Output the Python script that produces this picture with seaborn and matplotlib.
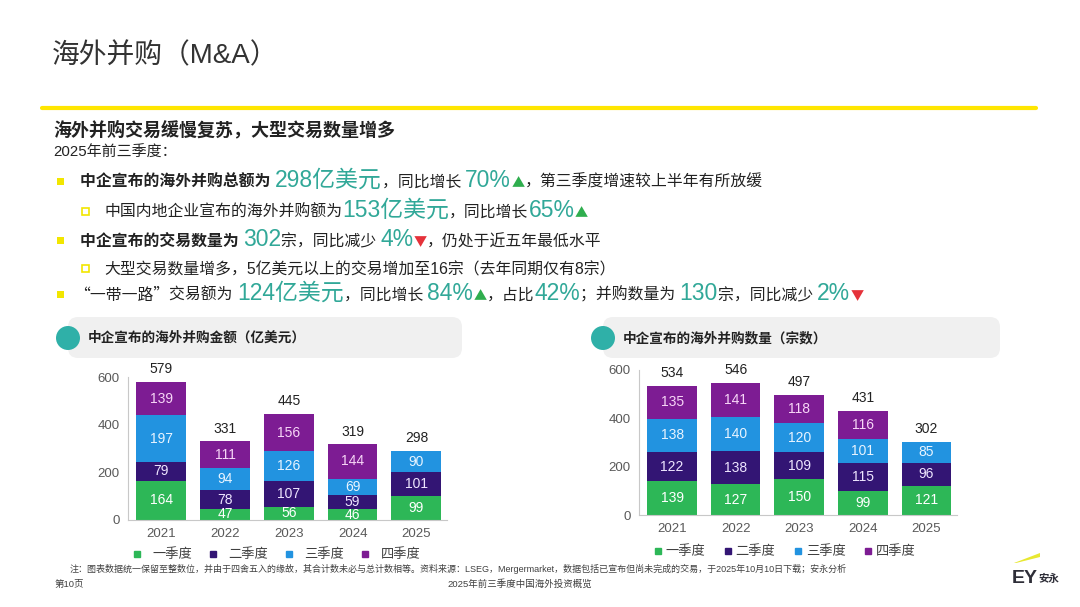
import numpy as np
import pandas as pd
import seaborn as sns
import matplotlib
matplotlib.use("Agg")
import matplotlib.pyplot as plt
from matplotlib.patches import FancyBboxPatch, Circle, Rectangle, Polygon
from matplotlib.lines import Line2D
from matplotlib.transforms import IdentityTransform

# ---- data ----
years = ["2021", "2022", "2023", "2024", "2025"]
quarters = ["一季度", "二季度", "三季度", "四季度"]

amt_q1 = [164, 47, 56, 46, 99]
amt_q2 = [79, 78, 107, 59, 101]
amt_q3 = [197, 94, 126, 69, 90]
amt_q4 = [139, 111, 156, 144, 0]
amt_total = [579, 331, 445, 319, 298]

cnt_q1 = [139, 127, 150, 99, 121]
cnt_q2 = [122, 138, 109, 115, 96]
cnt_q3 = [138, 140, 120, 101, 85]
cnt_q4 = [135, 141, 118, 116, 0]
cnt_total = [534, 546, 497, 431, 302]

y_ticks = [0, 200, 400, 600]

# ---- style ----
sns.set_theme(style="white")
FONTS = ["Liberation Sans", "Noto Sans CJK SC", "DejaVu Sans"]
CJK = ["Noto Sans CJK SC", "DejaVu Sans"]
plt.rcParams["font.family"] = FONTS

q_colors = ["#2db757", "#331574", "#2293e0", "#7d1c93"]
lbl_colors = ["#ffffff", "#eee6ff", "#e8f4ff", "#f7d6f7"]
TEAL = "#31a898"
DARK = "#222222"
GREY = "#595959"
UP = "#2fae4e"
DOWN = "#e5323a"

W, H = 1080, 607
fig = plt.figure(figsize=(W / 100, H / 100), dpi=100)
renderer = fig.canvas.get_renderer()


def fx(x):
    return x / W


def fy(y):
    return 1 - y / H


def rich(x, y, parts):
    """依次排列不同字号/颜色的文字，y 为基线（像素，从上往下）"""
    cur = x
    for part in parts:
        txt, size, color, weight = part[:4]
        fam = part[4] if len(part) > 4 else FONTS
        t = fig.text(fx(cur), fy(y), txt, fontsize=size, color=color,
                     fontweight=weight, va="baseline", ha="left", family=fam)
        bb = t.get_window_extent(renderer)
        cur += bb.width
    return cur


def bullet(x, y, hollow=False):
    s = 7
    if hollow:
        p = Rectangle((x - s / 2, H - y - s / 2), s, s, transform=IdentityTransform(),
                      facecolor="white", edgecolor="#f2e600", lw=1.2)
    else:
        p = Rectangle((x - s / 2, H - y - s / 2), s, s, transform=IdentityTransform(),
                      facecolor="#f2e600", edgecolor="none")
    fig.patches.append(p)


S, B = 11.4, 16.5  # 正文 / 大号数字字号
TRI = 9.5

# 标题 + 黄线
fig.text(fx(52), fy(56), "海外并购（M&A）", fontsize=20, color="#333333", va="center")
fig.add_artist(Line2D([fx(42), fx(1036)], [fy(108), fy(108)], color="#ffe600", lw=3))

fig.text(fx(53), fy(130), "海外并购交易缓慢复苏，大型交易数量增多", fontsize=13,
         fontweight="bold", color=DARK, va="center")
fig.text(fx(53), fy(153), "2025年前三季度：", fontsize=10.8, color=DARK, va="center")

# 要点
bullet(60, 181)
rich(80, 187, [("中企宣布的海外并购总额为 ", S, DARK, "bold"),
               ("298亿美元", B, TEAL, "normal"),
               ("，同比增长 ", S, DARK, "normal"),
               ("70%", B, TEAL, "normal"),
               ("▲", TRI, UP, "normal", CJK),
               ("，第三季度增速较上半年有所放缓", S, DARK, "normal")])
bullet(85, 211, hollow=True)
rich(104, 217, [("中国内地企业宣布的海外并购额为", S, DARK, "normal"),
                ("153亿美元", B, TEAL, "normal"),
                ("，同比增长", S, DARK, "normal"),
                ("65%", B, TEAL, "normal"),
                ("▲", TRI, UP, "normal", CJK)])
bullet(60, 240)
rich(80, 246, [("中企宣布的交易数量为 ", S, DARK, "bold"),
               ("302", B, TEAL, "normal"),
               ("宗，同比减少 ", S, DARK, "normal"),
               ("4%", B, TEAL, "normal"),
               ("▼", TRI, DOWN, "normal", CJK),
               ("，仍处于近五年最低水平", S, DARK, "normal")])
bullet(85, 268, hollow=True)
rich(104, 274, [("大型交易数量增多，5亿美元以上的交易增加至16宗（去年同期仅有8宗）", S, DARK, "normal")])
bullet(60, 294)
rich(74, 300, [("“一带一路”", S, DARK, "normal", CJK),
               ("交易额为 ", S, DARK, "normal"),
               ("124亿美元", B, TEAL, "normal"),
               ("，同比增长 ", S, DARK, "normal"),
               ("84%", B, TEAL, "normal"),
               ("▲", TRI, UP, "normal", CJK),
               ("，占比", S, DARK, "normal"),
               ("42%", B, TEAL, "normal"),
               ("；并购数量为 ", S, DARK, "normal"),
               ("130", B, TEAL, "normal"),
               ("宗，同比减少 ", S, DARK, "normal"),
               ("2%", B, TEAL, "normal"),
               ("▼", TRI, DOWN, "normal", CJK)])


def panel_header(x0, x1, title):
    box = FancyBboxPatch((x0, H - 358), x1 - x0, 41, transform=IdentityTransform(),
                         boxstyle="round,pad=0,rounding_size=10",
                         facecolor="#f0f0f0", edgecolor="none")
    fig.patches.append(box)
    fig.patches.append(Circle((x0, H - 338), 12, transform=IdentityTransform(),
                              facecolor="#2fb0a8", edgecolor="none"))
    fig.text(fx(x0 + 20), fy(338), title, fontsize=9.8, fontweight="bold",
             color=DARK, va="center")


def stacked(ax, q1, q2, q3, q4, totals):
    layers = [q1, q2, q3, q4]
    cum = np.cumsum(np.array(layers), axis=0)
    # 从最高一层画起，下层逐个覆盖
    for i in range(3, -1, -1):
        df = pd.DataFrame({"year": years, "v": cum[i]})
        sns.barplot(data=df, x="year", y="v", color=q_colors[i], saturation=1,
                    width=0.78, ax=ax, edgecolor="none")
    for i in range(4):
        for j, yv in enumerate(layers[i]):
            if yv <= 0:
                continue
            ax.text(j, cum[i][j] - yv / 2, str(yv), ha="center", va="center",
                    fontsize=10, color=lbl_colors[i])
    for j, tv in enumerate(totals):
        ax.annotate(str(tv), (j, cum[3][j]), xytext=(0, 4), textcoords="offset points",
                    ha="center", va="bottom", fontsize=10, color=DARK)
    ax.set_ylim(0, 600)
    ax.set_xlim(-0.52, 4.48)
    ax.set_yticks(y_ticks)
    ax.set_xlabel("")
    ax.set_ylabel("")
    sns.despine(ax=ax)
    for s in ["left", "bottom"]:
        ax.spines[s].set_color("#c8c8c8")
        ax.spines[s].set_linewidth(0.8)
    ax.tick_params(axis="both", length=0, labelsize=9.5, labelcolor=GREY, pad=6)
    ax.patch.set_alpha(0)


def legend(cx, y, spacing, textpad):
    handles = [Line2D([], [], marker="s", ls="none", markersize=4.5,
                      markerfacecolor=c, markeredgecolor=c) for c in q_colors]
    fig.legend(handles, quarters, loc="center", bbox_to_anchor=(fx(cx), fy(y)),
               ncol=4, frameon=False, fontsize=9.5, handletextpad=textpad,
               columnspacing=spacing, handlelength=0.8, labelcolor="#404040")


panel_header(68, 462, "中企宣布的海外并购金额（亿美元）")
panel_header(603, 1000, "中企宣布的海外并购数量（宗数）")

ax1 = fig.add_axes([fx(128), fy(520), (447 - 128) / W, (520 - 377) / H])
stacked(ax1, amt_q1, amt_q2, amt_q3, amt_q4, amt_total)
ax2 = fig.add_axes([fx(639), fy(515), (957 - 639) / W, (515 - 370) / H])
stacked(ax2, cnt_q1, cnt_q2, cnt_q3, cnt_q4, cnt_total)

legend(276, 555, 1.2, 0.75)
legend(784, 552, 1.3, 0.2)

# 页脚
fig.text(fx(70), fy(569), "注：图表数据统一保留至整数位，并由于四舍五入的缘故，其合计数未必与总计数相等。资料来源：LSEG，Mergermarket，"
         "数据包括已宣布但尚未完成的交易，于2025年10月10日下载；安永分析",
         fontsize=6.5, color="#404040", va="center")
fig.text(fx(55), fy(584), "第10页", fontsize=6.8, color="#404040", va="center")
fig.text(fx(520), fy(584), "2025年前三季度中国海外投资概览", fontsize=6.8,
         color="#404040", va="center", ha="center")

# EY 标志
fig.patches.append(Polygon([(1014, H - 563), (1040, H - 553), (1040, H - 557), (1016, H - 563)],
                           closed=True, transform=IdentityTransform(),
                           facecolor="#e8e830", edgecolor="none"))
ey_end = rich(1012, 583, [("EY", 14, "#2e2e38", "bold")])
rich(ey_end, 582, [("安永", 7.5, "#2e2e38", "bold", CJK)])

fig.savefig("out.png", dpi=100, facecolor="white")
